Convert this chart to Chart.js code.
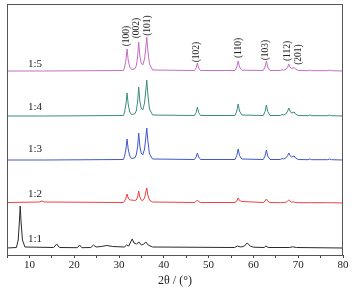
<!DOCTYPE html>
<html lang="en">
<head>
    <meta charset="UTF-8">
    <title>XRD patterns</title>
    <script src="https://cdn.jsdelivr.net/npm/chart.js"></script>
    <style>
        body { margin: 0; background: #fff; }
    </style>
</head>
<body>
    <canvas id="xrdChart" width="357" height="294"></canvas>

    <script>
        // 2theta positions shared by the 1:2 .. 1:5 samples
        const zAngles = [5, 12.2, 12.8, 13.4, 31.0, 31.25, 31.55, 31.8, 32.05, 32.4, 32.8, 33.5, 33.85, 34.15, 34.4, 34.65,
            34.95, 35.3, 35.7, 35.95, 36.2, 36.45, 36.8, 37.5, 46.85, 47.22, 47.5, 47.78, 48.2, 55.9, 56.3, 56.6, 56.9, 57.4,
            62.2, 62.6, 62.9, 63.2, 63.7, 66.0, 66.4, 66.8, 67.35, 67.65, 67.9, 68.15, 68.5, 68.85, 69.1, 69.4, 70.0, 72.2,
            72.6, 73.0, 76.6, 77.0, 77.4, 80];

        const int15 = [0, 0, 0, 0, 0.5, 4, 11, 22, 11, 4, 1.5, 2, 5, 14, 29, 15, 8, 6, 12, 22, 34, 20, 7, 1, 0.5, 3, 8, 3, 0.5,
            0.5, 4, 10, 4, 0.8, 0.5, 4, 10, 4, 0.5, 0.5, 1.2, 0.8, 2, 4, 7, 4, 2.5, 3, 3.5, 2, 0.5, 0.3, 1, 0.3, 0.3, 1, 0.3, 0];
        const int14 = [0, 0, 0, 0, 0.5, 4, 12, 23, 12, 4, 1.5, 2, 5, 14, 29, 15, 8, 6, 13, 24, 36, 21, 7, 1, 0.5, 3.5, 9, 3.5, 0.5,
            0.5, 5, 12, 5, 1, 0.5, 4.5, 11, 4.5, 0.5, 0.5, 1.5, 1, 2.5, 5, 8, 5, 3, 3.5, 4, 2, 0.5, 0.3, 1, 0.3, 0.3, 1, 0.3, 0];
        const int13 = [0, 0, 0, 0, 0.5, 4, 11, 21, 11, 4, 1.5, 2, 5, 13, 27, 14, 7, 5, 11, 21, 32, 19, 6, 1, 0.5, 3, 7, 3, 0.5,
            0.5, 4.5, 11, 4.5, 1, 0.5, 4, 10, 4, 0.5, 0.5, 1.5, 1, 2.5, 4.5, 7, 4.5, 3, 3.5, 4, 2, 0.5, 0.3, 1, 0.3, 0.3, 1, 0.3, 0];
        const int12 = [0.5, 1, 2, 1, 0.5, 2, 5, 9, 5, 3, 3, 2.5, 3, 6, 12, 6, 3, 2.5, 5, 10, 15, 8, 3, 1, 0.5, 1.5, 3, 1.5, 0.5,
            0.5, 2, 5, 2.5, 1.5, 0.5, 2, 4, 2, 0.5, 0.3, 0.5, 0.5, 1, 2, 3, 2, 1, 1, 1, 0.5, 0.3, 0.3, 0.3, 0.3, 0.3, 0.3, 0.3, 0];

        // 1:1 sample
        const angles11 = [5, 7.1, 7.5, 7.75, 7.95, 8.15, 8.45, 9.0, 15.4, 16.1, 16.7, 20.7, 21.2, 21.7, 23.7, 24.3, 24.9, 26.0,
            27.3, 28.6, 31.2, 31.7, 32.2, 32.6, 32.95, 33.35, 33.9, 34.45, 35.0, 35.55, 36.0, 36.5, 37.5, 55.8, 56.4, 57.2,
            58.0, 58.6, 59.3, 60.0, 62.4, 62.8, 63.3, 68.0, 68.8, 69.6, 80];
        const int11 = [0, 0.5, 8, 25, 42, 25, 8, 1, 0.5, 4, 0.5, 0.3, 3, 0.3, 0.5, 3, 1, 1.5, 2.5, 1.5, 1, 3, 2, 6, 9, 5, 4, 6,
            3, 4, 6, 3, 1, 0.5, 2, 1, 2, 5, 2, 0.8, 0.5, 2, 0.5, 0.5, 1.2, 0.5, 0];

        const sampleNames = ['1:1', '1:2', '1:3', '1:4', '1:5'];
        const offsets = [7, 52, 95, 139, 184];
        const colors = ['#2a2a2a', '#ec4141', '#4059c6', '#3b8c80', '#c46ec4'];

        // reflection labels: [text, 2theta, height]
        const hklLabels = [
            ['(100)', 31.6, 219], ['(002)', 34.0, 227], ['(101)', 36.25, 229.5], ['(102)', 47.4, 203],
            ['(110)', 56.6, 207], ['(103)', 62.8, 205], ['(112)', 67.7, 204], ['(201)', 70.0, 200.5]
        ];

        const sampleAngles = [angles11, zAngles, zAngles, zAngles, zAngles];
        const sampleInts = [int11, int12, int13, int14, int15];

        const datasets = sampleNames.map((name, i) => ({
            label: name,
            data: sampleAngles[i].map((a, j) => ({ x: a, y: sampleInts[i][j] + offsets[i] })),
            borderColor: colors[i],
            borderWidth: 1,
            pointRadius: 0,
            tension: 0,
            fill: false
        }));

        const serif = "'Liberation Serif', 'DejaVu Serif', serif";

        const textPlugin = {
            id: 'textPlugin',
            afterDatasetsDraw(chart) {
                const { ctx, chartArea, scales } = chart;
                ctx.save();
                ctx.strokeStyle = '#555';
                ctx.lineWidth = 1;
                ctx.strokeRect(chartArea.left + 0.5, chartArea.top + 0.5, chartArea.width - 1, chartArea.height);

                ctx.fillStyle = '#222';
                ctx.font = '11px ' + serif;
                ctx.textAlign = 'center';
                ctx.textBaseline = 'middle';
                sampleNames.forEach((name, i) => {
                    const y = [16, 61, 106, 148, 191][i];
                    ctx.fillText(name, scales.x.getPixelForValue(11.25), scales.y.getPixelForValue(y));
                });

                ctx.font = '9.5px ' + serif;
                hklLabels.forEach(([t, a, h]) => {
                    ctx.save();
                    ctx.translate(scales.x.getPixelForValue(a), scales.y.getPixelForValue(h));
                    ctx.rotate(-Math.PI / 2);
                    ctx.fillText(t, 0, 0);
                    ctx.restore();
                });
                ctx.restore();
            }
        };

        const ctx = document.getElementById('xrdChart').getContext('2d');
        new Chart(ctx, {
            type: 'line',
            data: { datasets: datasets },
            options: {
                responsive: false,
                animation: false,
                devicePixelRatio: 1,
                layout: { padding: { left: 7, right: 14, top: 4, bottom: 0 } },
                plugins: { legend: { display: false }, tooltip: { enabled: false } },
                scales: {
                    x: {
                        type: 'linear',
                        min: 5,
                        max: 80,
                        afterFit: function(scale) { scale.height = 39; },
                        ticks: {
                            stepSize: 5,
                            autoSkip: false,
                            maxRotation: 0,
                            padding: 1,
                            color: '#222',
                            font: { family: serif, size: 11 },
                            callback: function(v) { return v % 10 === 0 ? v : ''; }
                        },
                        grid: { drawOnChartArea: false, tickLength: 3, tickColor: '#444' },
                        border: { color: '#444' },
                        title: {
                            display: true,
                            text: '2θ / (°)',
                            color: '#222',
                            font: { family: serif, size: 12 },
                            padding: { top: 0, bottom: 6 }
                        }
                    },
                    y: { display: false, min: 0, max: 251 }
                }
            },
            plugins: [textPlugin]
        });
    </script>
</body>
</html>
